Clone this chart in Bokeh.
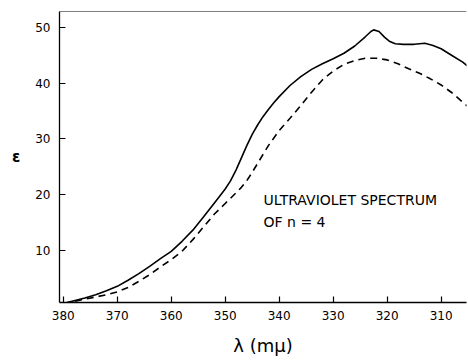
from bokeh.plotting import figure
from bokeh.models import Range1d, Span, Label, FixedTicker
from bokeh.embed import file_html
from bokeh.resources import INLINE

# Solid curve (wavelength in mμ, epsilon)
solid_wl = [380, 378, 376, 374, 372, 370, 368, 366, 364, 362, 360, 358, 356, 354, 352,
            350, 349, 348, 347, 346, 345, 344, 343, 342, 341, 340, 338, 336, 334, 332, 330,
            328, 326, 324, 323, 322.5, 321.5, 320.5, 319.5, 318.5, 317, 315, 313, 311.5,
            310, 308, 306, 305]
solid_eps = [0.4, 0.9, 1.4, 2.0, 2.7, 3.5, 4.6, 5.8, 7.1, 8.5, 9.8, 11.6, 13.6, 16.0, 18.5,
             21.0, 22.5, 24.4, 26.6, 28.8, 30.8, 32.5, 34.0, 35.3, 36.5, 37.6, 39.6, 41.2, 42.5,
             43.5, 44.4, 45.4, 46.7, 48.4, 49.3, 49.6, 49.3, 48.3, 47.5, 47.1, 47.0, 47.0,
             47.2, 46.8, 46.2, 45.0, 43.8, 43.0]

# Dashed curve
dashed_wl = [380, 378, 376, 374, 372, 370, 368, 366, 364, 362, 360, 358, 356, 354, 352,
             350, 348, 347, 346, 345, 344, 342, 340, 338, 336, 334, 332, 330, 328, 326, 324,
             322, 320, 318, 316, 314, 312, 310, 308, 306, 305]
dashed_eps = [0.4, 0.8, 1.2, 1.6, 2.0, 2.5, 3.3, 4.4, 5.6, 7.0, 8.3, 9.8, 11.9, 14.2, 16.5,
              18.4, 20.3, 21.3, 22.5, 24.0, 25.6, 28.8, 31.5, 33.7, 36.0, 38.4, 40.6, 42.2, 43.4,
              44.1, 44.5, 44.5, 44.2, 43.5, 42.6, 41.8, 40.8, 39.7, 38.3, 36.6, 35.8]

x_ticks = [380, 370, 360, 350, 340, 330, 320, 310]
y_ticks = [10, 20, 30, 40, 50]

annotation_lines = ["ULTRAVIOLET SPECTRUM", "OF n = 4"]

p = figure(width=468, height=360, output_backend="svg", toolbar_location=None,
           x_range=Range1d(380.7, 305.3), y_range=Range1d(0.6, 52.9),
           min_border_left=59, min_border_right=2, min_border_top=11, min_border_bottom=58)

p.outline_line_color = None
p.background_fill_color = "white"
p.border_fill_color = "white"
p.xgrid.visible = False
p.ygrid.visible = False

p.line(solid_wl, solid_eps, line_color="black", line_width=1.6)
p.line(dashed_wl, dashed_eps, line_color="black", line_width=1.6, line_dash="7 5")

p.add_layout(Span(location=52.9, dimension="width", line_color="black", line_width=1.2))

for ax in (p.xaxis[0], p.yaxis[0]):
    ax.axis_line_color = "black"
    ax.axis_line_width = 1.3
    ax.major_tick_in = 6
    ax.major_tick_out = 0
    ax.major_tick_line_color = "black"
    ax.major_tick_line_width = 1.2
    ax.minor_tick_line_color = None
    ax.major_label_text_font = "DejaVu Sans"
    ax.major_label_text_font_size = "12px"
    ax.major_label_text_color = "black"

p.xaxis[0].ticker = FixedTicker(ticks=x_ticks)
p.yaxis[0].ticker = FixedTicker(ticks=y_ticks)
p.xaxis[0].major_label_standoff = 8
p.yaxis[0].major_label_standoff = 9
p.xaxis[0].axis_label = "λ (mμ)"
p.xaxis[0].axis_label_text_font = "DejaVu Sans"
p.xaxis[0].axis_label_text_font_size = "18px"
p.xaxis[0].axis_label_text_font_style = "normal"
p.xaxis[0].axis_label_text_color = "black"
p.xaxis[0].axis_label_standoff = 12

p.yaxis[0].axis_label = "ε"
p.yaxis[0].axis_label_orientation = "horizontal"
p.yaxis[0].axis_label_text_font = "DejaVu Sans"
p.yaxis[0].axis_label_text_font_size = "15px"
p.yaxis[0].axis_label_text_font_style = "bold"
p.yaxis[0].axis_label_text_color = "black"
p.yaxis[0].axis_label_standoff = 12

p.add_layout(Label(x=342.9, y=19.0, text=annotation_lines[0], text_align="left",
                   text_baseline="middle", text_font="DejaVu Sans", text_font_size="14px",
                   text_color="black"))
p.add_layout(Label(x=342.9, y=15.0, text=annotation_lines[1], text_align="left",
                   text_baseline="middle", text_font="DejaVu Sans", text_font_size="14px",
                   text_color="black"))

open("out.html", "w").write(file_html(p, INLINE))
